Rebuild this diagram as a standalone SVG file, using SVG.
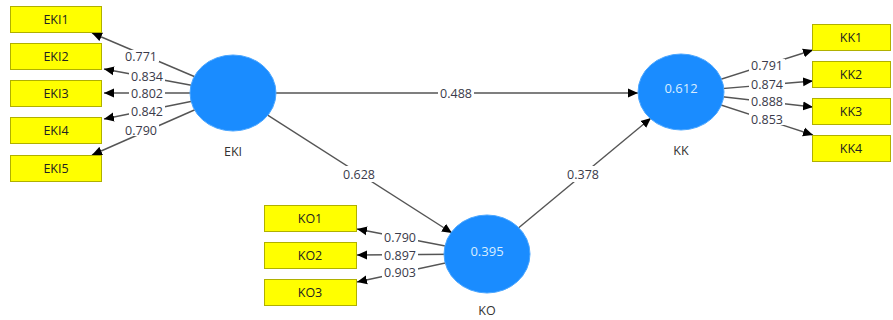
<svg xmlns="http://www.w3.org/2000/svg" width="893" height="320" viewBox="0 0 893 320">
<defs>
<marker id="ah" markerWidth="10" markerHeight="10" refX="10" refY="5" orient="auto" markerUnits="userSpaceOnUse">
<path d="M0,0.5 L10,5 L0,9.5 Z" fill="#000"/>
</marker>
</defs>
<style>
.ln{stroke:#555;stroke-width:1.4;fill:none;marker-end:url(#ah)}
.bg{fill:#fff}
.lb{font-family:"Open Sans","Noto Sans",sans-serif;font-size:12.5px;fill:#3a3a4a;text-anchor:middle;dominant-baseline:central}
.box{fill:#ffff00;stroke:#b0b000;stroke-width:1}
.bt{font-family:"Open Sans","Noto Sans",sans-serif;font-size:12.5px;fill:#222;text-anchor:middle;dominant-baseline:central}
.lv{fill:#1a8cff;stroke:#4aa6ff;stroke-width:1}
.lvt{font-family:"Open Sans","Noto Sans",sans-serif;font-size:13px;fill:#d8ecff;text-anchor:middle;dominant-baseline:central}
.nm{font-family:"Open Sans","Noto Sans",sans-serif;font-size:12.5px;fill:#333;text-anchor:middle;dominant-baseline:central}
</style>
<rect width="893" height="320" fill="#fff"/>
<g id="connectors">
<line class="ln" x1="233" y1="93" x2="92" y2="33"/>
<line class="ln" x1="233" y1="93" x2="104" y2="69"/>
<line class="ln" x1="233" y1="93" x2="104" y2="93"/>
<line class="ln" x1="233" y1="93" x2="104" y2="119"/>
<line class="ln" x1="233" y1="93" x2="92" y2="155"/>
<line class="ln" x1="681" y1="92" x2="813" y2="50"/>
<line class="ln" x1="681" y1="92" x2="813" y2="81"/>
<line class="ln" x1="681" y1="92" x2="813" y2="107"/>
<line class="ln" x1="681" y1="92" x2="813" y2="135"/>
<line class="ln" x1="487" y1="254" x2="357" y2="229"/>
<line class="ln" x1="487" y1="254" x2="357" y2="255"/>
<line class="ln" x1="487" y1="254" x2="357" y2="282"/>
<line class="ln" x1="276" y1="93" x2="638" y2="93"/>
<line class="ln" x1="233" y1="93" x2="452" y2="233"/>
<line class="ln" x1="487" y1="254" x2="651" y2="118"/>
<rect class="bg" x="123" y="50" width="36" height="12"/>
<rect class="bg" x="129" y="70" width="36" height="12"/>
<rect class="bg" x="129" y="87" width="36" height="12"/>
<rect class="bg" x="129" y="105" width="36" height="12"/>
<rect class="bg" x="123" y="124" width="36" height="12"/>
<rect class="bg" x="749" y="59" width="36" height="12"/>
<rect class="bg" x="749" y="78" width="36" height="12"/>
<rect class="bg" x="749" y="95" width="36" height="12"/>
<rect class="bg" x="749" y="113" width="36" height="12"/>
<rect class="bg" x="382" y="231" width="36" height="12"/>
<rect class="bg" x="382" y="249" width="36" height="12"/>
<rect class="bg" x="382" y="266" width="36" height="12"/>
<rect class="bg" x="438" y="87" width="36" height="12"/>
<rect class="bg" x="341" y="166" width="36" height="16"/>
<rect class="bg" x="565" y="166" width="36" height="16"/>
<text class="lb" x="141" y="56">0.771</text>
<text class="lb" x="147" y="76">0.834</text>
<text class="lb" x="147" y="93">0.802</text>
<text class="lb" x="147" y="111">0.842</text>
<text class="lb" x="141" y="130">0.790</text>
<text class="lb" x="767" y="65">0.791</text>
<text class="lb" x="767" y="84">0.874</text>
<text class="lb" x="767" y="101">0.888</text>
<text class="lb" x="767" y="119">0.853</text>
<text class="lb" x="400" y="237">0.790</text>
<text class="lb" x="400" y="255">0.897</text>
<text class="lb" x="400" y="272">0.903</text>
<text class="lb" x="456" y="93">0.488</text>
<text class="lb" x="359" y="174">0.628</text>
<text class="lb" x="583" y="174">0.378</text>
</g>
<g id="EKI">
<ellipse class="lv" cx="233" cy="93" rx="43" ry="38"/>
<text class="nm" x="233" y="151">EKI</text>
</g>
<g id="KK">
<ellipse class="lv" cx="681" cy="92" rx="43" ry="38"/>
<text class="lvt" x="681" y="88">0.612</text>
<text class="nm" x="681" y="150">KK</text>
</g>
<g id="KO">
<ellipse class="lv" cx="487" cy="254" rx="43" ry="39"/>
<text class="lvt" x="487" y="251">0.395</text>
<text class="nm" x="487" y="310">KO</text>
</g>
<g id="EKI1"><rect class="box" x="10.5" y="6.5" width="91" height="26"/><text class="bt" x="56" y="19.5">EKI1</text></g>
<g id="EKI2"><rect class="box" x="10.5" y="43.5" width="91" height="26"/><text class="bt" x="56" y="56.5">EKI2</text></g>
<g id="EKI3"><rect class="box" x="10.5" y="80.5" width="91" height="26"/><text class="bt" x="56" y="93.5">EKI3</text></g>
<g id="EKI4"><rect class="box" x="10.5" y="117.5" width="91" height="26"/><text class="bt" x="56" y="130.5">EKI4</text></g>
<g id="EKI5"><rect class="box" x="10.5" y="155.5" width="91" height="26"/><text class="bt" x="56" y="168.5">EKI5</text></g>
<g id="KK1"><rect class="box" x="812.5" y="24.5" width="78" height="26"/><text class="bt" x="851" y="37.5">KK1</text></g>
<g id="KK2"><rect class="box" x="812.5" y="61.5" width="78" height="26"/><text class="bt" x="851" y="74.5">KK2</text></g>
<g id="KK3"><rect class="box" x="812.5" y="98.5" width="78" height="26"/><text class="bt" x="851" y="111.5">KK3</text></g>
<g id="KK4"><rect class="box" x="812.5" y="135.5" width="78" height="26"/><text class="bt" x="851" y="148.5">KK4</text></g>
<g id="KO1"><rect class="box" x="264.5" y="205.5" width="92" height="26"/><text class="bt" x="310" y="218.5">KO1</text></g>
<g id="KO2"><rect class="box" x="264.5" y="242.5" width="92" height="26"/><text class="bt" x="310" y="255.5">KO2</text></g>
<g id="KO3"><rect class="box" x="264.5" y="279.5" width="92" height="26"/><text class="bt" x="310" y="292.5">KO3</text></g>
</svg>
